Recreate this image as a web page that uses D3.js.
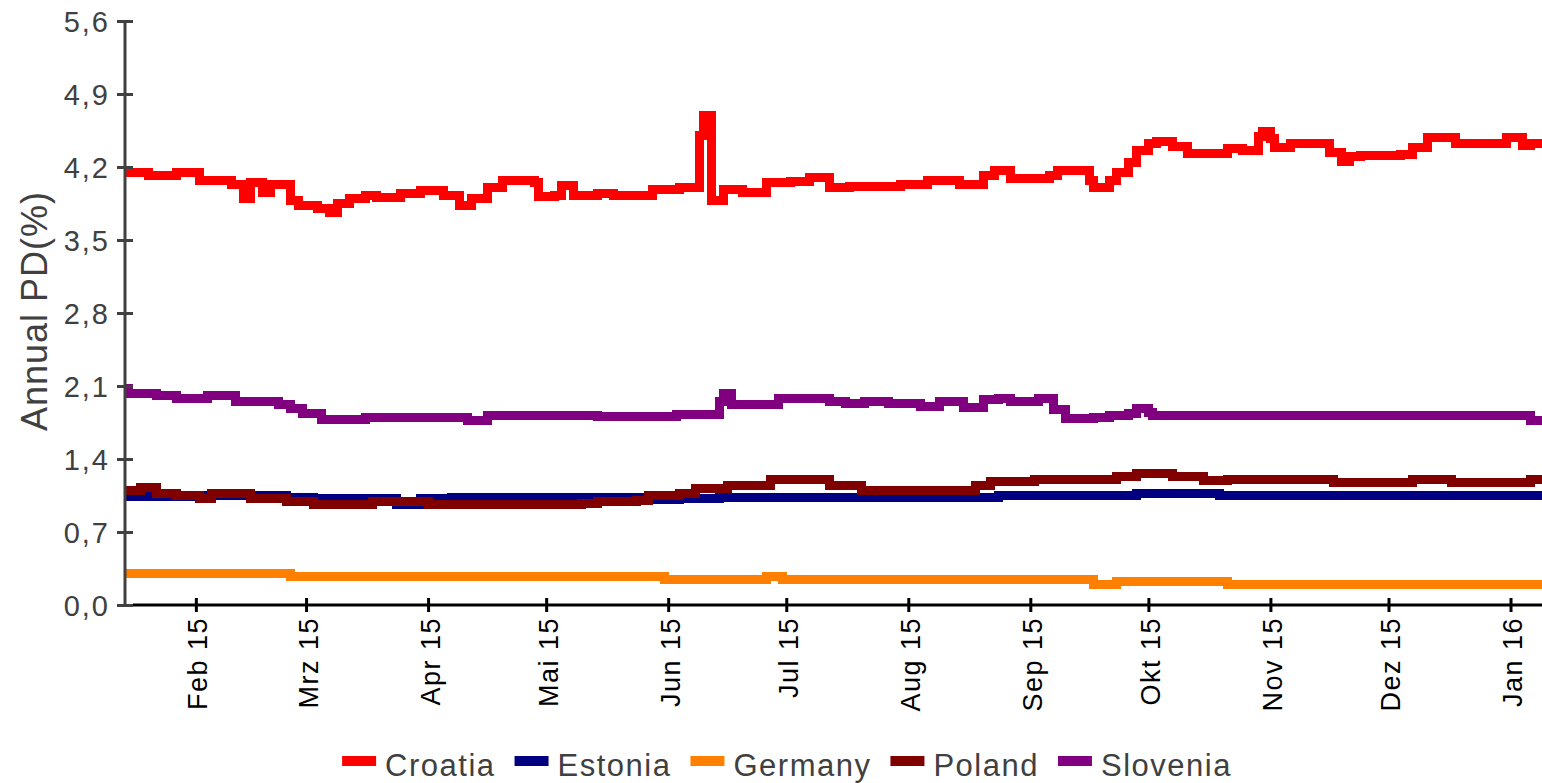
<!DOCTYPE html>
<html>
<head>
<meta charset="utf-8">
<script src="https://cdn.jsdelivr.net/npm/d3@7"></script>
<style>
  body { margin: 0; background: #fff; }
  svg { display: block; font-family: "Liberation Sans", Arial, sans-serif; }
  .y-axis text { fill: #404040; font-size: 29px; letter-spacing: 2px; }
  .x-axis text { fill: #000; font-size: 27px; letter-spacing: 1.5px; }
  .axis-title { fill: #404040; font-size: 36px; letter-spacing: 1px; }
  .legend text { fill: #404040; font-size: 31px; letter-spacing: 1.5px; }
</style>
</head>
<body>
<svg id="chart"></svg>
<script>
// series names and colours, legend order
const countries = ['Croatia', 'Estonia', 'Germany', 'Poland', 'Slovenia'];
const colors = ['#ff0000', '#000080', '#ff8000', '#800000', '#800080'];

// German month abbreviations used on the x axis
const monthLabels = ['Jan', 'Feb', 'Mrz', 'Apr', 'Mai', 'Jun', 'Jul', 'Aug', 'Sep', 'Okt', 'Nov', 'Dez'];
const yTicks = [0, 0.7, 1.4, 2.1, 2.8, 3.5, 4.2, 4.9, 5.6];

// change points: [date, annual PD %]
const croatia = [
  ['2015-01-14', 4.15], ['2015-01-20', 4.12], ['2015-01-27', 4.15], ['2015-02-02', 4.07],
  ['2015-02-10', 4.03], ['2015-02-13', 3.90], ['2015-02-15', 4.05], ['2015-02-18', 3.96],
  ['2015-02-20', 4.03], ['2015-02-25', 3.88], ['2015-02-27', 3.83], ['2015-03-04', 3.80],
  ['2015-03-07', 3.76], ['2015-03-09', 3.85], ['2015-03-12', 3.90], ['2015-03-16', 3.93],
  ['2015-03-19', 3.91], ['2015-03-25', 3.95], ['2015-03-30', 3.97], ['2015-04-05', 3.93],
  ['2015-04-09', 3.83], ['2015-04-12', 3.90], ['2015-04-16', 4.00], ['2015-04-20', 4.07],
  ['2015-04-28', 4.05], ['2015-04-29', 3.92], ['2015-05-03', 3.93], ['2015-05-05', 4.02],
  ['2015-05-08', 3.93], ['2015-05-14', 3.95], ['2015-05-18', 3.93], ['2015-05-28', 3.98],
  ['2015-06-04', 4.00], ['2015-06-09', 4.50], ['2015-06-10', 4.69], ['2015-06-12', 3.88],
  ['2015-06-15', 3.98], ['2015-06-20', 3.96], ['2015-06-26', 4.05], ['2015-07-02', 4.06],
  ['2015-07-07', 4.10], ['2015-07-12', 4.00], ['2015-07-17', 4.01], ['2015-07-30', 4.03],
  ['2015-08-06', 4.07], ['2015-08-14', 4.03], ['2015-08-20', 4.12], ['2015-08-23', 4.17],
  ['2015-08-27', 4.09], ['2015-09-06', 4.12], ['2015-09-08', 4.17], ['2015-09-16', 4.07],
  ['2015-09-17', 4.00], ['2015-09-21', 4.07], ['2015-09-23', 4.15], ['2015-09-26', 4.24],
  ['2015-09-28', 4.36], ['2015-10-01', 4.43], ['2015-10-03', 4.44], ['2015-10-07', 4.40],
  ['2015-10-11', 4.33], ['2015-10-21', 4.38], ['2015-10-25', 4.36], ['2015-10-29', 4.49],
  ['2015-10-30', 4.54], ['2015-11-01', 4.47], ['2015-11-02', 4.39], ['2015-11-06', 4.43],
  ['2015-11-16', 4.34], ['2015-11-19', 4.25], ['2015-11-21', 4.30], ['2015-11-24', 4.31],
  ['2015-12-04', 4.32], ['2015-12-07', 4.39], ['2015-12-11', 4.48], ['2015-12-18', 4.43],
  ['2015-12-31', 4.48], ['2016-01-04', 4.41], ['2016-01-06', 4.43], ['2016-01-09', 4.43]
];

const estonia = [
  ['2015-01-14', 1.04], ['2015-02-02', 1.05], ['2015-02-24', 1.03], ['2015-03-03', 1.02],
  ['2015-03-24', 0.96], ['2015-03-30', 1.02], ['2015-04-07', 1.03], ['2015-05-28', 1.01],
  ['2015-06-04', 1.02], ['2015-06-14', 1.03], ['2015-08-24', 1.05], ['2015-09-28', 1.07],
  ['2015-10-19', 1.05], ['2016-01-09', 1.05]
];

const germany = [
  ['2015-01-14', 0.30], ['2015-02-25', 0.27], ['2015-05-31', 0.24], ['2015-06-26', 0.27],
  ['2015-06-30', 0.24], ['2015-09-17', 0.20], ['2015-09-23', 0.23], ['2015-10-21', 0.20],
  ['2016-01-09', 0.20]
];

const poland = [
  ['2015-01-14', 1.10], ['2015-01-18', 1.13], ['2015-01-22', 1.07], ['2015-01-27', 1.05],
  ['2015-02-02', 1.02], ['2015-02-05', 1.07], ['2015-02-15', 1.02], ['2015-02-24', 0.99],
  ['2015-03-03', 0.96], ['2015-03-18', 0.99], ['2015-04-01', 0.96], ['2015-05-10', 0.97],
  ['2015-05-14', 0.99], ['2015-05-24', 1.00], ['2015-05-27', 1.05], ['2015-06-04', 1.07],
  ['2015-06-08', 1.12], ['2015-06-16', 1.15], ['2015-06-27', 1.20], ['2015-07-12', 1.15],
  ['2015-07-20', 1.10], ['2015-08-18', 1.15], ['2015-08-22', 1.18], ['2015-09-02', 1.20],
  ['2015-09-23', 1.23], ['2015-09-28', 1.26], ['2015-10-07', 1.23], ['2015-10-15', 1.19],
  ['2015-10-21', 1.20], ['2015-11-17', 1.17], ['2015-12-07', 1.20], ['2015-12-17', 1.17],
  ['2016-01-06', 1.20], ['2016-01-09', 1.20]
];

const slovenia = [
  ['2015-01-14', 2.08], ['2015-01-15', 2.03], ['2015-01-22', 2.01], ['2015-01-27', 1.98],
  ['2015-02-04', 2.01], ['2015-02-11', 1.95], ['2015-02-22', 1.92], ['2015-02-25', 1.88],
  ['2015-02-28', 1.84], ['2015-03-05', 1.78], ['2015-03-16', 1.80], ['2015-04-11', 1.77],
  ['2015-04-16', 1.82], ['2015-05-14', 1.81], ['2015-06-03', 1.83], ['2015-06-14', 1.95],
  ['2015-06-15', 2.03], ['2015-06-17', 1.92], ['2015-06-29', 1.98], ['2015-07-12', 1.95],
  ['2015-07-16', 1.93], ['2015-07-21', 1.95], ['2015-07-27', 1.93], ['2015-08-04', 1.90],
  ['2015-08-09', 1.95], ['2015-08-15', 1.89], ['2015-08-20', 1.97], ['2015-08-24', 1.98],
  ['2015-08-27', 1.95], ['2015-09-03', 1.98], ['2015-09-07', 1.87], ['2015-09-10', 1.79],
  ['2015-09-17', 1.80], ['2015-09-21', 1.82], ['2015-09-26', 1.84], ['2015-09-28', 1.88],
  ['2015-10-01', 1.85], ['2015-10-02', 1.82], ['2016-01-06', 1.77], ['2016-01-09', 1.77]
];

const seriesData = [croatia, estonia, germany, poland, slovenia];

const width = 1542, height = 783;
const margin = {top: 21, right: 0, bottom: 178, left: 125};
const innerW = width - margin.left - margin.right;
const innerH = height - margin.top - margin.bottom;

const parse = d3.timeParse('%Y-%m-%d');
const series = countries.map((name, i) => ({
  name: name,
  color: colors[i],
  values: seriesData[i].map(d => ({date: parse(d[0]), value: d[1]}))
}));

const svg = d3.select('#chart')
    .attr('width', width)
    .attr('height', height);

const chart = svg.append('g')
    .attr('transform', `translate(${margin.left},${margin.top})`);

const xScale = d3.scaleTime()
    .domain([parse('2015-01-14'), parse('2016-01-09')])
    .range([0, innerW]);

const yScale = d3.scaleLinear()
    .domain([0, 5.6])
    .range([innerH, 0]);

// lines first, axes on top like the original
const line = d3.line()
    .x(d => xScale(d.date))
    .y(d => yScale(d.value))
    .curve(d3.curveStepAfter);

chart.selectAll('.series')
    .data(series)
  .join('path')
    .attr('class', 'series')
    .attr('fill', 'none')
    .attr('stroke', d => d.color)
    .attr('stroke-width', 9)
    .attr('shape-rendering', 'crispEdges')
    .attr('d', d => line(d.values));

// x axis: monthly ticks, labels rotated
const xAxis = d3.axisBottom(xScale)
    .ticks(d3.timeMonth.every(1))
    .tickSize(7)
    .tickFormat(d => monthLabels[d.getMonth()] + ' ' + String(d.getFullYear()).slice(2));

chart.append('g')
    .attr('class', 'axis x-axis')
    .attr('transform', `translate(0,${innerH})`)
    .call(xAxis)
    .call(g => g.select('.domain').attr('stroke', '#000').attr('stroke-width', 3).attr('d', `M8,0H${innerW}`))
    .call(g => g.selectAll('.tick line').attr('stroke', '#000').attr('stroke-width', 3).attr('y1', -7))
    .call(g => g.selectAll('.tick text')
        .attr('text-anchor', 'end')
        .attr('x', 0)
        .attr('y', 0)
        .attr('dy', null)
        .attr('transform', 'translate(11,12) rotate(-90)'));

// y axis
const yAxis = d3.axisLeft(yScale)
    .tickValues(yTicks)
    .tickSize(8)
    .tickPadding(7)
    .tickFormat(d => d3.format('.1f')(d).replace('.', ','));

chart.append('g')
    .attr('class', 'axis y-axis')
    .call(yAxis)
    .call(g => g.select('.domain').attr('stroke', '#404040').attr('stroke-width', 3).attr('d', `M0,0V${innerH}`))
    .call(g => g.selectAll('.tick line').attr('stroke', '#404040').attr('stroke-width', 3).attr('x2', 8).attr('x1', -8))
    .call(g => g.selectAll('.tick text').attr('x', -15).attr('dy', '0.36em'));

svg.append('text')
    .attr('class', 'axis-title')
    .attr('transform', 'translate(47,311) rotate(-90)')
    .attr('text-anchor', 'middle')
    .text('Annual PD(%)');

// legend along the bottom, centred
const legend = svg.append('g').attr('class', 'legend');
const items = legend.selectAll('g')
    .data(series)
  .join('g');

items.append('rect')
    .attr('width', 34)
    .attr('height', 10)
    .attr('y', -20)
    .attr('fill', d => d.color);

items.append('text')
    .attr('x', 43)
    .text(d => d.name);

let offset = 0;
items.each(function() {
  const g = d3.select(this);
  g.attr('transform', `translate(${offset},0)`);
  offset += 43 + g.select('text').node().getComputedTextLength() + 19;
});
const legendW = offset - 19;
legend.attr('transform', `translate(${787 - legendW / 2},776)`);
</script>
</body>
</html>
